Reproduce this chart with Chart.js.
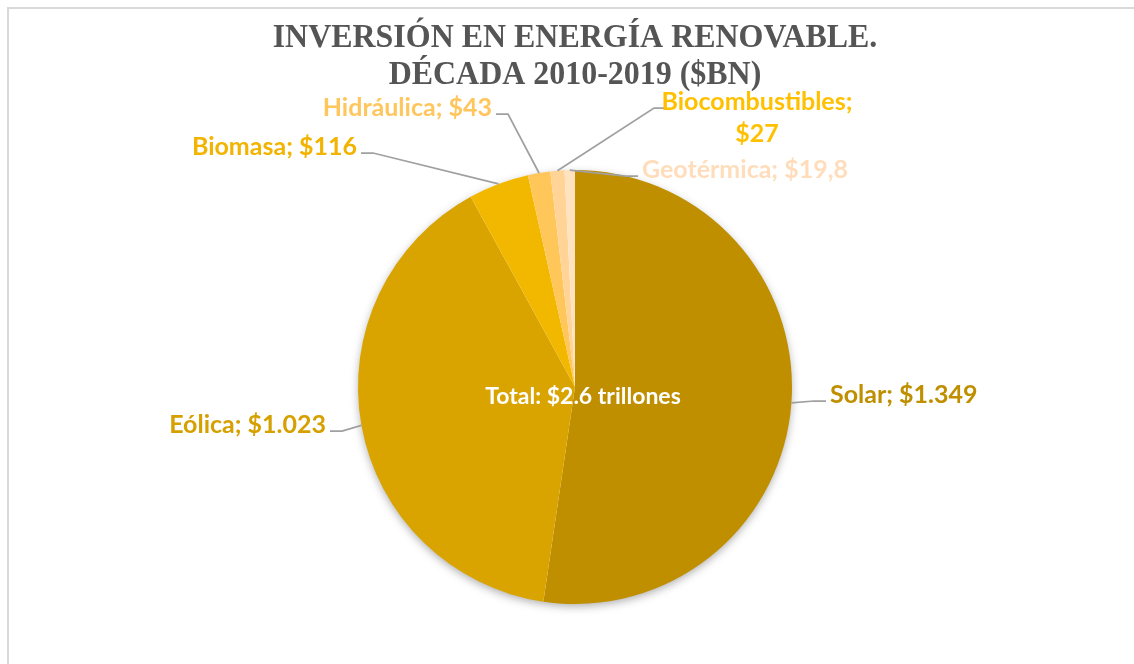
<!DOCTYPE html>
<html>
<head>
<meta charset="utf-8">
<script src="https://cdn.jsdelivr.net/npm/chart.js@4.4.1/dist/chart.umd.min.js"></script>
<style>
  html, body { margin: 0; padding: 0; background: #fff; overflow: hidden; }
  #wrap { position: relative; width: 1134px; height: 664px; }
  #frame {
    position: absolute; left: 7px; top: 7px; width: 1200px; height: 800px;
    border-left: 2px solid #d9d9d9; border-top: 2px solid #d9d9d9; pointer-events: none;
  }
</style>
</head>
<body>
<div id="wrap">
  <canvas id="chart" width="1134" height="664"></canvas>
  <div id="frame"></div>
</div>
<script>
// Data (billions of dollars)
const categories = ['Solar', 'Eólica', 'Biomasa', 'Hidráulica', 'Biocombustibles', 'Geotérmica'];
const investment = [1349, 1023, 116, 43, 27, 19.8];
const titleLines = ['INVERSIÓN EN ENERGÍA RENOVABLE.', 'DÉCADA 2010-2019 ($BN)'];
const centerText = 'Total: $2.6 trillones';

const sliceColors = ['#BF8F00', '#D9A300', '#F2B800', '#FFC65A', '#FFD496', '#FFE2C0'];
const labelColors = ['#BF8F00', '#D6A000', '#F2B400', '#FFC65E', '#FFC000', '#FFDDBB'];

// label placement relative to pie centre (px); split = two-line label
const labelLayout = [
  { dx: 255, dy: 8, align: 'left' },
  { dx: -249, dy: 38, align: 'right' },
  { dx: -218, dy: -240, align: 'right' },
  { dx: -83, dy: -279, align: 'right' },
  { dx: 182, dy: -285, align: 'center', split: true, width: 174 },
  { dx: 67, dy: -217, align: 'left' }
];

// Spanish style numbers: 1.349 / 19,8
function fmt(v) {
  const parts = String(v).split('.');
  const int = parts[0].replace(/\B(?=(\d{3})+(?!\d))/g, '.');
  return parts[1] ? int + ',' + parts[1] : int;
}

const titlePlugin = {
  id: 'excelTitle',
  afterDraw(chart) {
    const ctx = chart.ctx;
    const cx = chart.chartArea.left + chart.chartArea.width / 2;
    ctx.save();
    ctx.fillStyle = '#555555';
    ctx.font = 'bold 33px "Liberation Serif", "Times New Roman", serif';
    ctx.textAlign = 'center';
    ctx.textBaseline = 'alphabetic';
    ctx.translate(cx, 0);
    ctx.scale(0.968, 1);
    ctx.fillText(titleLines[0], 0, 47);
    ctx.fillText(titleLines[1], 0, 84);
    ctx.restore();
  }
};

const shadowPlugin = {
  id: 'pieShadow',
  beforeDatasetsDraw(chart) {
    const arc = chart.getDatasetMeta(0).data[0];
    if (!arc) return;
    const ctx = chart.ctx;
    ctx.save();
    ctx.shadowColor = 'rgba(0,0,0,0.35)';
    ctx.shadowBlur = 10;
    ctx.shadowOffsetY = 3;
    ctx.fillStyle = '#fff';
    ctx.beginPath();
    ctx.arc(arc.x, arc.y, arc.outerRadius - 1, 0, Math.PI * 2);
    ctx.fill();
    ctx.restore();
  }
};

const labelPlugin = {
  id: 'outsideLabels',
  afterDatasetsDraw(chart) {
    const ctx = chart.ctx;
    const arcs = chart.getDatasetMeta(0).data;
    ctx.save();
    ctx.font = 'bold 25px Lato, "Open Sans", sans-serif';
    ctx.textBaseline = 'middle';

    arcs.forEach((arc, i) => {
      const lay = labelLayout[i];
      const mid = (arc.startAngle + arc.endAngle) / 2;
      const ex = arc.x + arc.outerRadius * Math.cos(mid);
      const ey = arc.y + arc.outerRadius * Math.sin(mid);
      const lx = arc.x + lay.dx;
      const ly = arc.y + lay.dy;
      const text = categories[i] + '; $' + fmt(investment[i]);

      // leader line: short horizontal stub next to the label, then to the slice edge
      let sx;
      if (lay.align === 'left') sx = lx - 4;
      else if (lay.align === 'right') sx = lx + 4;
      else sx = lx - lay.width / 2 - 4;
      const stub = ex > sx ? 12 : -12;
      const sy = ly + 6;
      ctx.strokeStyle = '#A0A0A0';
      ctx.lineWidth = 1.75;
      ctx.beginPath();
      ctx.moveTo(sx, sy);
      ctx.lineTo(sx + stub, sy);
      ctx.lineTo(ex, ey);
      ctx.stroke();

      ctx.fillStyle = labelColors[i];
      ctx.textAlign = lay.align;
      if (lay.split) {
        ctx.fillText(categories[i] + ';', lx, ly);
        ctx.fillText('$' + fmt(investment[i]), lx, ly + 32);
      } else {
        ctx.fillText(text, lx, ly);
      }
    });

    // total inside the pie
    const a0 = arcs[0];
    ctx.fillStyle = '#ffffff';
    ctx.font = 'bold 23px Lato, "Open Sans", sans-serif';
    ctx.textAlign = 'center';
    ctx.fillText(centerText, a0.x + 8, a0.y + 10);
    ctx.restore();
  }
};

new Chart(document.getElementById('chart'), {
  type: 'pie',
  data: {
    labels: categories,
    datasets: [{
      data: investment,
      backgroundColor: sliceColors,
      borderWidth: 0
    }]
  },
  options: {
    responsive: false,
    animation: false,
    layout: {
      padding: { left: 16, right: 0, top: 170, bottom: 60 }
    },
    plugins: {
      legend: { display: false },
      title: { display: false },
      tooltip: { enabled: false }
    }
  },
  plugins: [shadowPlugin, labelPlugin, titlePlugin]
});
</script>
</body>
</html>
